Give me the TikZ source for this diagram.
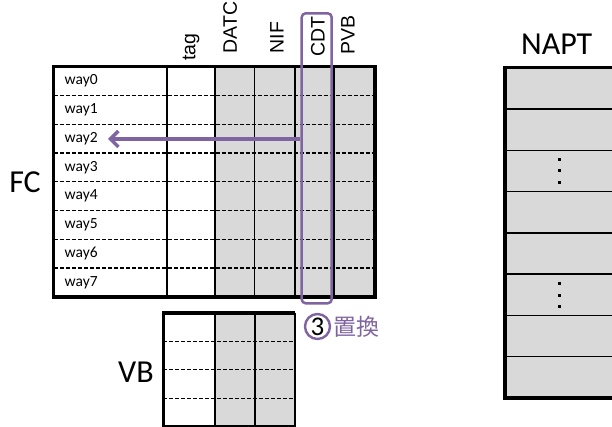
\documentclass[tikz,border=0pt]{standalone}
\usepackage{fontspec}
\setmainfont{Carlito}
\newfontfamily\hdfont{Liberation Sans}
\newfontfamily\cjkfont{Noto Sans CJK JP}
\usetikzlibrary{arrows.meta}
\definecolor{cellgray}{HTML}{D9D9D9}
\definecolor{accent}{HTML}{8064A2}
\tikzset{
  frame/.style={draw=black, line width=3.6pt},
  colline/.style={draw=black, line width=1.6pt},
  rowdash/.style={draw=black, line width=1.3pt, dash pattern=on 4pt off 2pt},
  rowline/.style={draw=black, line width=1.5pt},
  waylabel/.style={anchor=west, inner sep=0pt, font=\fontsize{15.5}{17}\selectfont},
  header/.style={anchor=west, rotate=90, inner sep=0pt, font=\hdfont\fontsize{19.5}{22}\selectfont},
  title/.style={inner sep=0pt, font=\fontsize{32}{36}\selectfont},
  dotmark/.style={fill=black},
}
\begin{document}
\begin{tikzpicture}[x=1pt,y=-1pt]
\useasboundingbox[fill=white] (0,0) rectangle (612,427);

% ---------------- FC table (8 ways) ----------------
\fill[cellgray] (215,66.7) rectangle (375,296.7);
\foreach \i in {1,...,7}
  \draw[rowdash] (53.5,{66.7+28.75*\i}) -- (375,{66.7+28.75*\i});
\foreach \x in {166.7,215,254.3,295,334}
  \draw[colline] (\x,66.7) -- (\x,296.7);
\draw[frame] (53.5,66.7) rectangle (375,296.7);
\foreach \i in {0,...,7}
  \node[waylabel] (way\i) at (64.5,{66.7+28.75*(\i+0.5)}) {way\i};

% column headers
\node[header] (htag)  at (191.2,61)   {tag};
\node[header] (hdatc) at (230.2,53.3) {DATC};
\node[header] (hnif)  at (277,53.3) {NIF};
\node[header] (hcdt)  at (318,56.7) {CDT};
\node[header] (hpvb)  at (348,55)   {PVB};

\node[title] (fc) at (25,182.5) {FC};

% highlighted CDT column and replacement arrow
\node[draw=accent, line width=2.5pt, rounded corners=4pt, minimum width=30pt,
      minimum height=290pt, inner sep=0pt] (cdtbox) at (316.7,158.3) {};
\coordinate (tip) at (108,139);
\draw[accent, line width=3.5pt, -{Straight Barb[length=8pt,width=16pt]}]
  (cdtbox.west |- tip) -- (tip);

\node[circle, draw=accent, line width=2.4pt, minimum size=25pt, inner sep=0pt,
      font=\fontsize{27}{29}\selectfont] (step3) at (317.5,326.5) {3};
\node[anchor=west, inner sep=0pt, text=accent, font=\cjkfont\fontsize{23}{25}\selectfont]
  (repl) at (333.5,326.5) {置換};

% ---------------- VB table ----------------
\fill[cellgray] (215,312.7) rectangle (295,427);
\foreach \y in {341.2,369.8,398.4}
  \draw[rowdash] (163.3,\y) -- (295,\y);
\foreach \x in {215,255}
  \draw[colline] (\x,312.7) -- (\x,427);
\draw[colline] (295,312.7) -- (295,427);
\draw[frame] (295,312.7) -- (163.3,312.7) -- (163.3,426.5) -- (295,426.5);
\node[title] (vb) at (136,372.5) {VB};

% ---------------- NAPT table ----------------
\fill[cellgray] (505,67.7) rectangle (620,398);
\foreach \i in {1,...,7}
  \draw[rowline] (503,{67.7+41.29*\i}) -- (620,{67.7+41.29*\i});
\draw[frame] (620,67.7) -- (505,67.7) -- (505,398) -- (620,398);
\node[title] (napt) at (556.7,44) {NAPT};
% vertical ellipses in rows 3 and 6
\foreach \c in {170.8,295}
  \foreach \d in {-11.7,0,11.7}
    \fill[dotmark] (557.9,{\c+\d-1.5}) rectangle (560.9,{\c+\d+1.5});
\end{tikzpicture}
\end{document}
